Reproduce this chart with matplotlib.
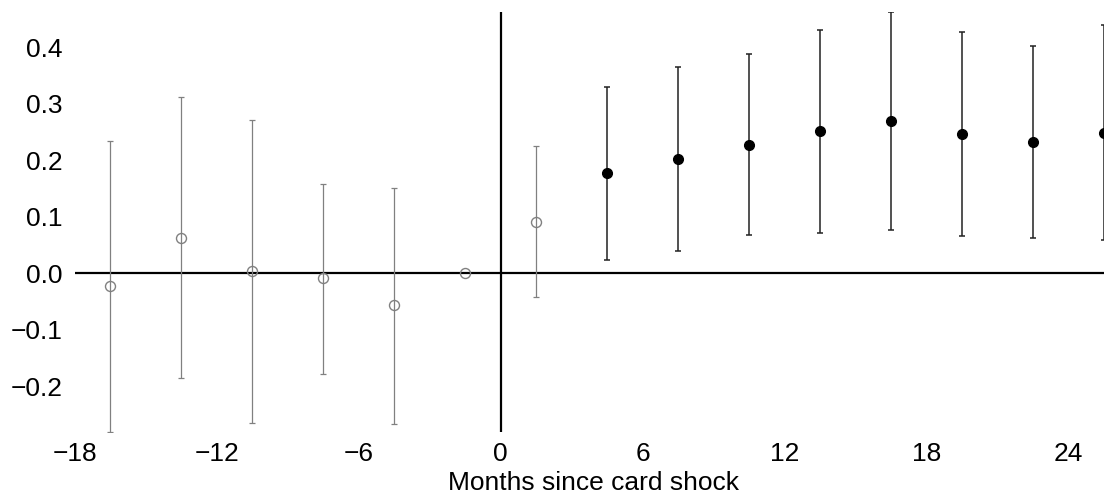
import matplotlib
matplotlib.use("Agg")
import matplotlib.pyplot as plt

# Data
months_pre = [-16.5, -13.5, -10.5, -7.5, -4.5, -1.5, 1.5]
est_pre = [-0.023, 0.063, 0.004, -0.009, -0.057, 0.000, 0.091]
lo_pre = [-0.281, -0.185, -0.265, -0.179, -0.267, 0.000, -0.043]
hi_pre = [0.234, 0.311, 0.271, 0.158, 0.150, 0.000, 0.225]

months_post = [4.5, 7.5, 10.5, 13.5, 16.5, 19.5, 22.5, 25.5]
est_post = [0.177, 0.202, 0.227, 0.251, 0.269, 0.247, 0.232, 0.248]
lo_post = [0.024, 0.039, 0.067, 0.071, 0.076, 0.065, 0.062, 0.058]
hi_post = [0.330, 0.365, 0.388, 0.430, 0.462, 0.427, 0.402, 0.439]

xticks = [-18, -12, -6, 0, 6, 12, 18, 24]
xtick_labels = ["\u221218", "\u221212", "\u22126", "0", "6", "12", "18", "24"]
yticks = [-0.2, -0.1, 0.0, 0.1, 0.2, 0.3, 0.4]
ytick_labels = ["\u22120.2", "\u22120.1", "0.0", "0.1", "0.2", "0.3", "0.4"]

plt.rcParams['font.family'] = ['Liberation Sans', 'DejaVu Sans']

fig = plt.figure(figsize=(11.04, 4.97), dpi=100)
ax = fig.add_axes([75/1104, 1-432/497, 1029/1104, 420/497])

ax.axhline(0, color='black', lw=1.6, zorder=1)
ax.axvline(0, color='black', lw=1.6, zorder=1)

# pre-period (grey, open)
pre_has_bar = [i for i in range(len(months_pre)) if hi_pre[i] != lo_pre[i]]
ax.errorbar([months_pre[i] for i in pre_has_bar], [est_pre[i] for i in pre_has_bar],
            yerr=[[est_pre[i]-lo_pre[i] for i in pre_has_bar], [hi_pre[i]-est_pre[i] for i in pre_has_bar]],
            fmt='none', ecolor='#808080', elinewidth=0.9, capsize=2, capthick=0.9, zorder=2)
ax.plot(months_pre, est_pre, 'o', mfc='none', mec='#808080', mew=1.0, ms=7.2, zorder=3)

# post-period (black, filled)
ax.errorbar(months_post, est_post,
            yerr=[[e-l for e, l in zip(est_post, lo_post)], [h-e for e, h in zip(est_post, hi_post)]],
            fmt='o', color='black', ecolor='#222222', elinewidth=1.1, capsize=2, capthick=1.1,
            ms=7, zorder=3, clip_on=True)

ax.set_xlim(-18, 25.5)
ax.set_ylim(-0.281, 0.462)
ax.set_xticks(xticks)
ax.set_xticklabels(xtick_labels)
ax.set_yticks(yticks)
ax.set_yticklabels(ytick_labels)
ax.tick_params(axis='both', length=0, labelsize=19)
ax.tick_params(axis='x', pad=7)
ax.tick_params(axis='y', pad=9)
for s in ax.spines.values():
    s.set_visible(False)

ax.set_xlabel("Months since card shock", fontsize=19)
ax.xaxis.set_label_coords((594-75)/1029, -(483-432)/420)
ax.xaxis.label.set_va('center')

fig.savefig("out.png", dpi=100)
